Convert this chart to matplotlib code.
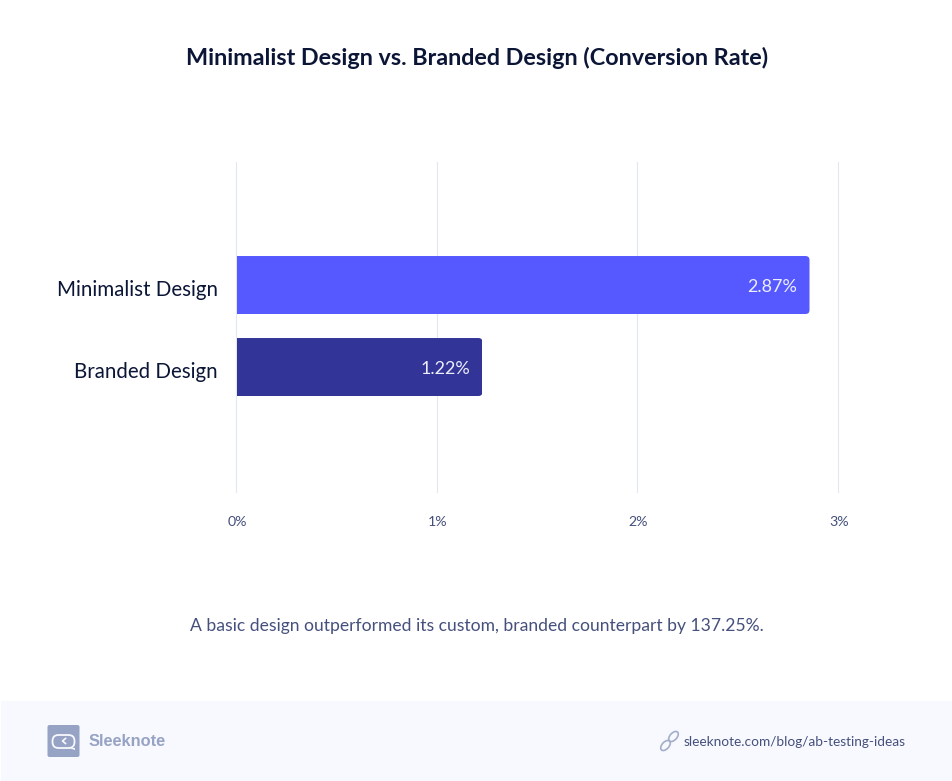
# -*- coding: utf-8 -*-
import matplotlib.pyplot as plt
from matplotlib.patches import FancyBboxPatch, Rectangle, Ellipse, Polygon
from matplotlib.transforms import ScaledTranslation

W, H = 952, 781
plt.rcParams["font.family"] = ["Lato", "DejaVu Sans"]

nombres = ["Branded Design", "Minimalist Design"]
valores = [1.225, 2.855]   # longitud
etiquetas = ["1.22%", "2.87%"]
colores = ["#323498", "#5559ff"]

fig = plt.figure(figsize=(W / 100, H / 100), dpi=100, facecolor="white")

# capa de fondo en pixeles: pie, logo, enlace
bg = fig.add_axes([0, 0, 1, 1])
bg.set_xlim(0, W)
bg.set_ylim(H, 0)
bg.axis("off")
bg.add_patch(Rectangle((1, 701), W, 80, fc="#f8f9fe", ec="none"))

# logo
bg.add_patch(FancyBboxPatch((47.5, 725), 32, 32, boxstyle="round,pad=0,rounding_size=2",
                            fc="#97a3c4", ec="none"))
bg.add_patch(FancyBboxPatch((52.5, 735), 22, 13, boxstyle="round,pad=0,rounding_size=6",
                            fc="none", ec="#f8f9fe", lw=1.3))
bg.add_patch(Polygon([[69, 748], [74.5, 748], [74.5, 750]], fc="#f8f9fe", ec="none"))
bg.plot([65.5, 62.5, 65.5], [738.5, 741, 743.5], color="#f8f9fe", lw=1.2)

# icono de enlace
for cx, cy in [(673.5, 736.5), (665.5, 745.5)]:
    bg.add_patch(Ellipse((cx, cy), 7, 12, angle=42, fc="none", ec="#a3aecb", lw=1.2))

bg.text(89, 741.5, "Sleeknote", family="Liberation Sans", weight="bold", fontsize=11.8,
        color="#97a3c4", ha="left", va="center")
bg.text(683.5, 742, "sleeknote.com/blog/ab-testing-ideas", fontsize=9.85,
        color="#45507c", ha="left", va="center")
bg.text(477.5, 58, "Minimalist Design vs. Branded Design (Conversion Rate)", fontsize=16.8,
        weight="bold", color="#0b1536", ha="center", va="center")
bg.text(476.5, 626, "A basic design outperformed its custom, branded counterpart by 137.25%.",
        fontsize=12.6, color="#45507c", ha="center", va="center")

# grafico
izq, der, arriba, abajo = 236, 838, 162, 492
ax = fig.add_axes([izq / W, 1 - abajo / H, (der - izq) / W, (abajo - arriba) / H])
ax.patch.set_alpha(0)
ax.set_xlim(0, 3)
ax.set_ylim(-1.524, 2.5)
ax.set_axisbelow(True)
ax.grid(axis="x", color="#e3e6f3", lw=0.8, clip_on=False)
for s in ax.spines.values():
    s.set_visible(False)

alto = 0.707
barras = ax.barh([0, 1], valores, left=0.003, height=alto, color=colores)
for i, b in enumerate(barras):
    # esquinas redondeadas a la derecha
    clip = FancyBboxPatch((-0.1, i - alto / 2), valores[i] + 0.103, alto,
                          boxstyle="round,pad=0,rounding_size=0.02", mutation_aspect=2.44,
                          transform=ax.transData, fc="none", ec="none")
    ax.add_patch(clip)
    b.set_clip_path(clip)
    ax.text(valores[i] - 0.058, i - 0.025, etiquetas[i], color="#eceefb", fontsize=13,
            ha="right", va="center")

ax.set_yticks([0, 1], nombres)
ax.set_xticks([0, 1, 2, 3], ["0%", "1%", "2%", "3%"])
ax.tick_params(axis="y", length=0, pad=13, labelsize=14.8, labelcolor="#0b1536")
ax.tick_params(axis="x", length=0, pad=17, labelsize=10.2, labelcolor="#45507c")
# pequeno ajuste en pixeles de las etiquetas
for t in ax.get_yticklabels():
    t.set_transform(t.get_transform() + ScaledTranslation(0, -3 / 100, fig.dpi_scale_trans))
for t in ax.get_xticklabels():
    t.set_transform(t.get_transform() + ScaledTranslation(1 / 100, 0, fig.dpi_scale_trans))

plt.savefig("out.png", dpi=100)
